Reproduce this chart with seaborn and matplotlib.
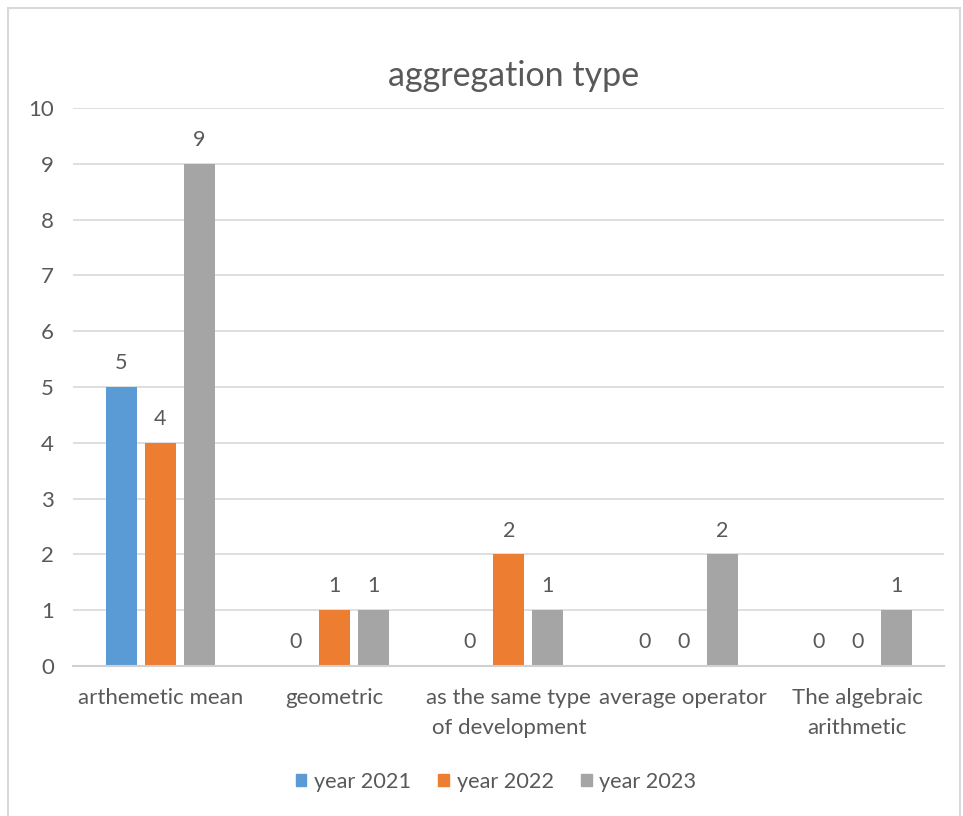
import matplotlib
matplotlib.use("Agg")
import matplotlib.pyplot as plt
import matplotlib.patches as mpatches
import seaborn as sns
import pandas as pd

categories = ["arthemetic mean", "geometric", "as the same type\nof development",
              "average operator", "The algebraic\narithmetic"]
series_names = ["year 2021", "year 2022", "year 2023"]
values_2021 = [5, 0, 0, 0, 0]
values_2022 = [4, 1, 2, 0, 0]
values_2023 = [9, 1, 1, 2, 1]
colors = ["#5B9BD5", "#ED7D31", "#A5A5A5"]
y_ticks = list(range(0, 11))

rows = []
for name, vals in zip(series_names, [values_2021, values_2022, values_2023]):
    for cat, v in zip(categories, vals):
        rows.append({"category": cat, "series": name, "value": v})
df = pd.DataFrame(rows)

sns.set_theme(style="white")
plt.rcParams["font.family"] = ["Lato", "DejaVu Sans"]
text_color = "#595959"

fig = plt.figure(figsize=(9.63, 8.16), dpi=100)
ax = fig.add_axes([0.0762, 0.1838, 0.9045, 0.6838])

sns.barplot(data=df, x="category", y="value", hue="series", palette=colors,
            width=0.671, gap=0.205, ax=ax, legend=False, saturation=1, linewidth=0)

for container in ax.containers:
    ax.bar_label(container, fmt="%d", padding=10, color=text_color, fontsize=15.5)

ax.set_ylim(0, 10)
ax.set_xlim(-0.5, len(categories) - 0.5)
ax.set_yticks(y_ticks)
ax.yaxis.grid(True, color="#D9D9D9", linewidth=1.2)
ax.set_axisbelow(True)
for side in ["top", "right", "left"]:
    ax.spines[side].set_visible(False)
ax.spines["bottom"].set_color("#D0D0D0")
ax.spines["bottom"].set_linewidth(1.5)
ax.tick_params(axis="both", length=0, colors=text_color, labelsize=16)
ax.tick_params(axis="x", pad=16)
ax.tick_params(axis="y", pad=14)
for lbl in ax.get_xticklabels():
    lbl.set_linespacing(1.6)
ax.set_xlabel("")
ax.set_ylabel("")

fig.text(0.533, 0.907, "aggregation type", ha="center", va="center",
         fontsize=24.5, color=text_color)

handles = [mpatches.Patch(color=c, label=n) for c, n in zip(colors, series_names)]
fig.legend(handles=handles, loc="center", bbox_to_anchor=(0.515, 0.042), ncol=3,
           frameon=False, fontsize=15.6, labelcolor=text_color,
           handlelength=0.5, handleheight=0.5, handletextpad=0.35, columnspacing=1.25)

border = mpatches.Rectangle((8 / 963, -0.02), (960 - 8) / 963, (816 - 8) / 816 + 0.02,
                            transform=fig.transFigure, fill=False,
                            edgecolor="#D9D9D9", linewidth=1.5)
fig.patches.append(border)

fig.savefig("out.png", dpi=100)
